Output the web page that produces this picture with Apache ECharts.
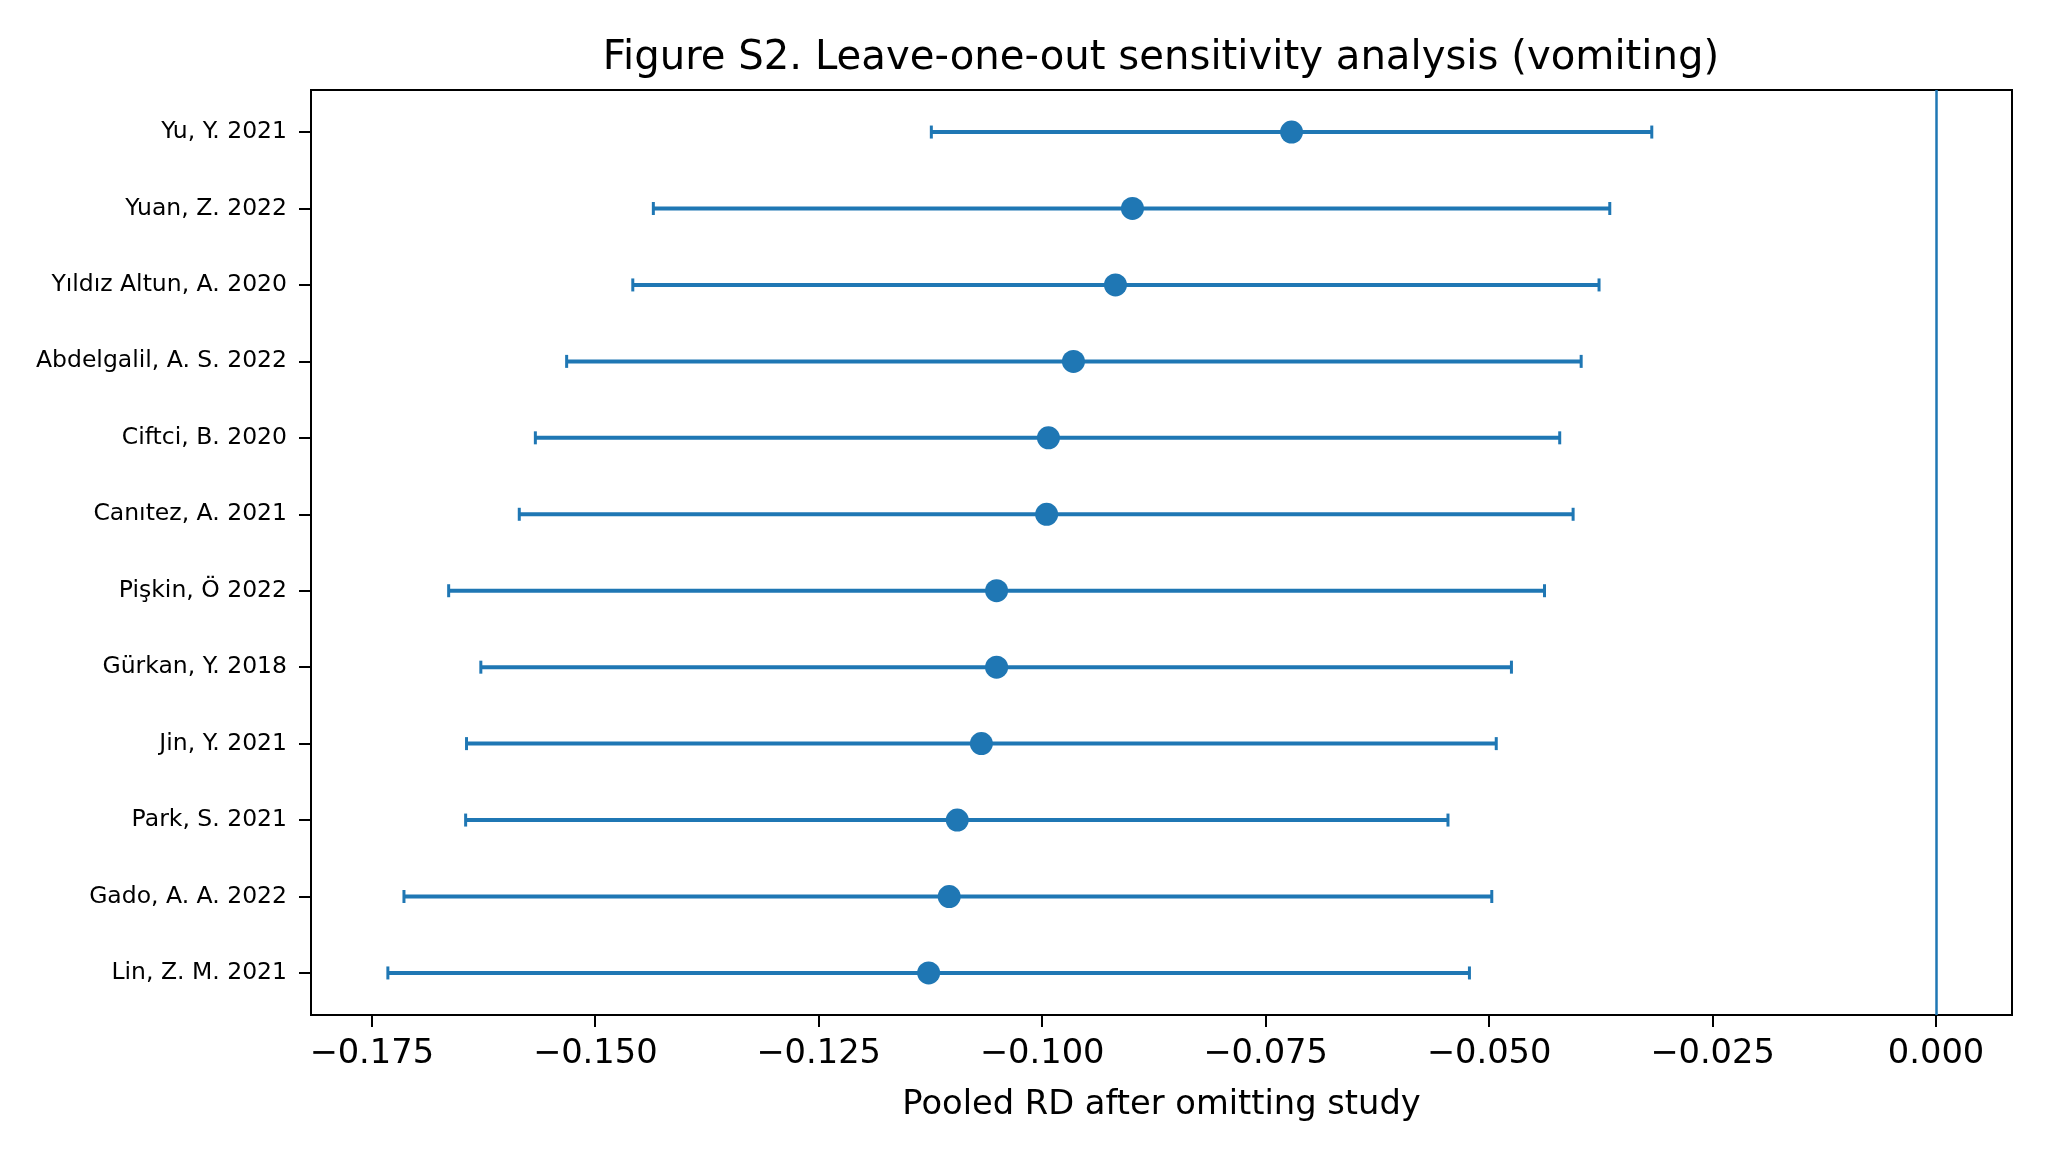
<!DOCTYPE html>
<html>
<head>
<meta charset="utf-8">
<script src="https://cdn.jsdelivr.net/npm/echarts@6/dist/echarts.min.js"></script>
<style>html,body{margin:0;padding:0;background:#fff}#c{width:2048px;height:1156px}</style>
</head>
<body>
<div id="c"></div>
<script>
const studies = ["Yu, Y. 2021","Yuan, Z. 2022","Yıldız Altun, A. 2020","Abdelgalil, A. S. 2022","Ciftci, B. 2020","Canıtez, A. 2021","Pişkin, Ö 2022","Gürkan, Y. 2018","Jin, Y. 2021","Park, S. 2021","Gado, A. A. 2022","Lin, Z. M. 2021"];
const estimate = [-0.0721,-0.0899,-0.0918,-0.0965,-0.0993,-0.0995,-0.1051,-0.1051,-0.1068,-0.1095,-0.1104,-0.1127];
const lower = [-0.1124,-0.1435,-0.1458,-0.1532,-0.1567,-0.1585,-0.1664,-0.1628,-0.1644,-0.1645,-0.1714,-0.1732];
const upper = [-0.0318,-0.0365,-0.0377,-0.0397,-0.0421,-0.0406,-0.0438,-0.0475,-0.0492,-0.0546,-0.0497,-0.0522];
const xTicks = [-0.175,-0.15,-0.125,-0.1,-0.075,-0.05,-0.025,0];
const refLine = 0;
const title = "Figure S2. Leave-one-out sensitivity analysis (vomiting)";
const xName = "Pooled RD after omitting study";

const C = '#1f77b4';
const FONT = 'DejaVu Sans';
const idx = studies.map((_, i) => i);

const chart = echarts.init(document.getElementById('c'), null, {renderer: 'canvas'});
chart.setOption({
  animation: false,
  backgroundColor: '#fff',
  title: {
    text: title, left: 1156, top: 34, textAlign: 'center',
    textStyle: {fontFamily: FONT, fontSize: 40.2, fontWeight: 'normal', color: '#000'}
  },
  grid: {left: 311, right: 36, top: 90, bottom: 141, show: true, borderColor: '#000', borderWidth: 2, backgroundColor: 'transparent'},
  xAxis: {
    type: 'value', min: -0.1818, max: 0.0085,
    name: xName, nameLocation: 'middle', nameGap: 73,
    nameTextStyle: {fontFamily: FONT, fontSize: 33.7, color: '#000'},
    axisLine: {show: true, onZero: false, lineStyle: {color: '#000', width: 2}},
    axisTick: {show: true, length: 12, lineStyle: {color: '#000', width: 2}, customValues: xTicks},
    axisLabel: {fontFamily: FONT, fontSize: 33.7, color: '#000', margin: 22, customValues: xTicks,
      formatter: v => (v < 0 ? '\u2212' : '') + Math.abs(v).toFixed(3)},
    splitLine: {show: false}
  },
  yAxis: {
    type: 'value', min: -0.55, max: 11.55, inverse: true,
    axisLine: {show: true, onZero: false, lineStyle: {color: '#000', width: 2}},
    axisTick: {show: true, length: 12, lineStyle: {color: '#000', width: 2}, customValues: idx},
    axisLabel: {fontFamily: FONT, fontSize: 23.5, color: '#000', margin: 24, customValues: idx,
      formatter: v => studies[Math.round(v)]},
    splitLine: {show: false}
  },
  series: [
    {
      type: 'custom',
      data: idx.map(i => [lower[i], upper[i], i]),
      encode: {x: [0, 1], y: 2},
      renderItem: function (params, api) {
        const p1 = api.coord([api.value(0), api.value(2)]);
        const p2 = api.coord([api.value(1), api.value(2)]);
        const h = 6.5;
        const st = {stroke: C, lineWidth: 4};
        const cs = {stroke: C, lineWidth: 3};
        return {type: 'group', children: [
          {type: 'line', shape: {x1: p1[0], y1: p1[1], x2: p2[0], y2: p2[1]}, style: st},
          {type: 'line', shape: {x1: p1[0], y1: p1[1] - h, x2: p1[0], y2: p1[1] + h}, style: cs},
          {type: 'line', shape: {x1: p2[0], y1: p2[1] - h, x2: p2[0], y2: p2[1] + h}, style: cs}
        ]};
      },
      silent: true, z: 2
    },
    {
      type: 'scatter',
      data: idx.map(i => [estimate[i], i]),
      symbol: 'circle', symbolSize: 23,
      itemStyle: {color: C, opacity: 1},
      silent: true, z: 3,
      markLine: {
        silent: true, symbol: ['none', 'none'], label: {show: false},
        lineStyle: {color: C, width: 2.5, type: 'solid'},
        data: [{xAxis: refLine}]
      }
    }
  ]
});
</script>
</body>
</html>
